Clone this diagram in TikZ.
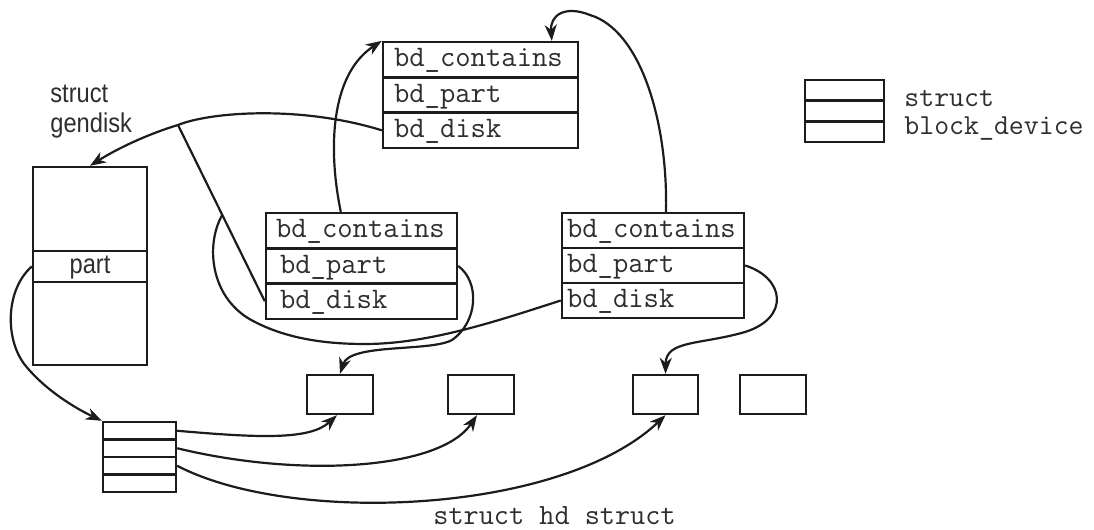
\documentclass[tikz,border=0pt]{standalone}
\usepackage{fontspec}
\usepackage{graphicx}
\setsansfont{Liberation Sans}
\usetikzlibrary{arrows.meta,calc}

\definecolor{ink}{HTML}{1C1C1C}
\definecolor{txt}{HTML}{2E2E2E}

% monospaced field names
\newcommand\codefont{\ttfamily\fontsize{14.9}{17}\selectfont}
% a field: box of width #1, text indented by #2
\newcommand\rowtxt[3]{\makebox[#1][l]{\hspace*{#2}\codefont #3}}
% condensed sans labels
\newcommand\sanslabel[1]{\scalebox{0.87}[1]{\sffamily\fontsize{13.6}{15}\selectfont #1}}

\tikzset{
  box/.style={draw=ink, line width=1.2pt, inner sep=0pt, text=txt},
  field/.style={box, text height=9pt, text depth=2pt},
  wire/.style={draw=ink, line width=1.1pt},
  arr/.style={wire, -{Stealth[length=8pt,width=6pt,inset=2.5pt]}},
  lbl/.style={inner sep=0pt, text=txt},
}

\begin{document}
\begin{tikzpicture}[x=0.5pt,y=-0.5pt]
\useasboundingbox (0,0) rectangle (1094,530);

% struct block_device (upper)
\node[field, minimum height=17.67pt] (A1) at (480.5,59.67) {\rowtxt{97.5pt}{5.5pt}{bd\_contains}};
\node[field, minimum height=17.67pt] (A2) at (480.5,95)    {\rowtxt{97.5pt}{5.5pt}{bd\_part}};
\node[field, minimum height=17.67pt] (A3) at (480.5,130.33) {\rowtxt{97.5pt}{5.5pt}{bd\_disk}};

% struct block_device (left)
\node[field, minimum height=17.67pt] (B1) at (361.5,230.67) {\rowtxt{95.5pt}{5pt}{bd\_contains}};
\node[field, minimum height=17.67pt] (B2) at (361.5,266)    {\rowtxt{95.5pt}{7pt}{bd\_part}};
\node[field, minimum height=17.67pt] (B3) at (361.5,301.33) {\rowtxt{95.5pt}{7pt}{bd\_disk}};

% struct block_device (right)
\node[field, minimum height=17.5pt] (C1) at (653,230.5) {\rowtxt{91pt}{2.5pt}{bd\_contains}};
\node[field, minimum height=17.5pt] (C2) at (653,265.5) {\rowtxt{91pt}{2.5pt}{bd\_part}};
\node[field, minimum height=17.5pt] (C3) at (653,300.5) {\rowtxt{91pt}{2.5pt}{bd\_disk}};

% struct gendisk
\node[box, minimum width=57pt, minimum height=42pt] (G1) at (90,209) {};
\node[box, minimum width=57pt, minimum height=15.5pt, text height=9.5pt, text depth=3pt] (G2) at (90,266.5) {\sanslabel{part}};
\node[box, minimum width=57pt, minimum height=41.5pt] (G3) at (90,323.5) {};
\node[lbl, anchor=base west] (gdA) at (50,102) {\sanslabel{struct}};
\node[lbl, anchor=base west] (gdB) at (50,132) {\sanslabel{gendisk}};

% partition table
\node[box, minimum width=36.5pt, minimum height=8.75pt] (H1) at (139.5,430.75) {};
\node[box, minimum width=36.5pt, minimum height=8.75pt] (H2) at (139.5,448.25) {};
\node[box, minimum width=36.5pt, minimum height=8.75pt] (H3) at (139.5,465.75) {};
\node[box, minimum width=36.5pt, minimum height=8.75pt] (H4) at (139.5,483.25) {};

% struct hd_struct instances
\node[box, minimum width=33pt, minimum height=19.5pt] (S1) at (340,394.5) {};
\node[box, minimum width=33pt, minimum height=19.5pt] (S2) at (481,394.5) {};
\node[box, minimum width=32.5pt, minimum height=19.5pt] (S3) at (665.5,394.5) {};
\node[box, minimum width=33pt, minimum height=19.5pt] (S4) at (773,394.5) {};
\node[lbl, anchor=base west] (hdl) at (433,524) {\ttfamily\fontsize{14.7}{16}\selectfont struct hd struct};

% legend
\node[box, minimum width=39.5pt, minimum height=10.33pt] (L1) at (844.5,90.33) {};
\node[box, minimum width=39.5pt, minimum height=10.33pt] (L2) at (844.5,111) {};
\node[box, minimum width=39.5pt, minimum height=10.33pt] (L3) at (844.5,131.67) {};
\node[lbl, anchor=base west] (lgA) at (904,106) {\ttfamily\fontsize{14.5}{16}\selectfont struct};
\node[lbl, anchor=base west] (lgB) at (904,134) {\ttfamily\fontsize{14.5}{16}\selectfont block\_device};

% bd_disk pointers to the gendisk
\coordinate (J) at (178,125);
\draw[arr] (A3.west) .. controls (300,105) and (210,112) .. (J)
           .. controls (145,135) and (115,150) .. (G1.north);
\draw[wire] (J) -- (B3.west);
\coordinate (J2) at ($(J)!0.51!(B3.west)$);
\draw[wire] (J2) .. controls (205,245) and (210,300) .. (255,322)
            .. controls (290,340) and (330,344) .. (365,344)
            .. controls (430,344) and (500,320) .. (C3.west);

% bd_contains pointers
\draw[arr] ([xshift=38pt]B1.north west) .. controls (328,150) and (330,75) .. (A1.north west);
\draw[arr] ([xshift=6.5pt]C1.north) .. controls (668,120) and (640,30) .. (590,15)
           .. controls (565,5) and (550,15) .. ([xshift=85pt]A1.north west);

% bd_part pointers
\draw[arr] (B2.east) .. controls (480,282) and (478,322) .. (452,340)
           .. controls (430,352) and (350,343) .. (S1.north);
\draw[arr] (C2.east) .. controls (785,278) and (790,318) .. (745,332)
           .. controls (700,345) and (666,340) .. (S3.north);

% gendisk part -> partition table
\draw[arr] (G2.west) .. controls (5,290) and (5,340) .. (25,365)
           .. controls (45,390) and (75,408) .. (H1.north west);

% partition table -> hd_struct
\draw[arr] (H1.east) .. controls (260,438) and (310,440) .. ([xshift=-1.5pt]S1.south);
\draw[arr] (H2.east) .. controls (300,478) and (440,470) .. ([xshift=-2pt]S2.south);
\draw[arr] (H3.east) .. controls (290,525) and (560,515) .. (S3.south);
\end{tikzpicture}
\end{document}
